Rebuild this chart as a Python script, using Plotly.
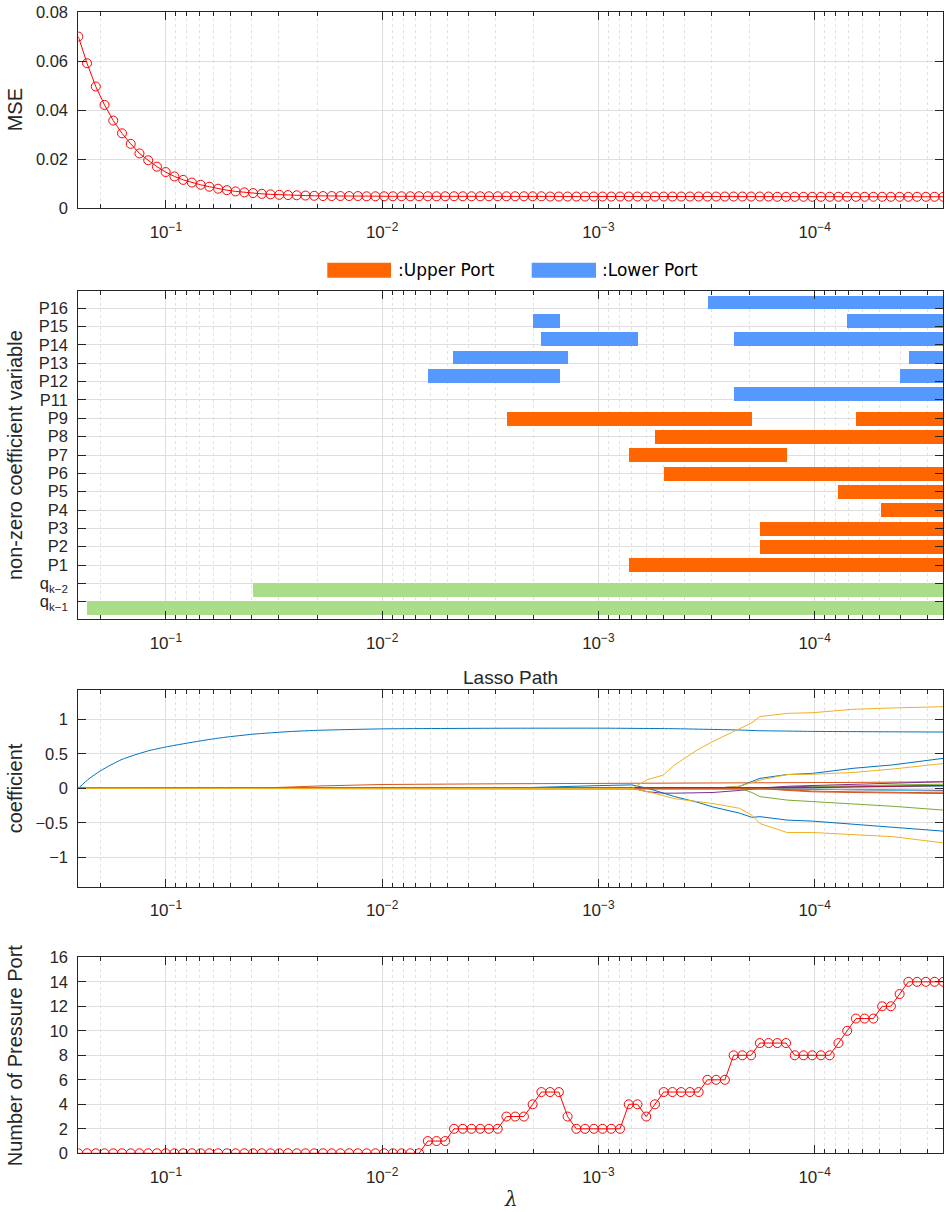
import numpy as np
import plotly.graph_objects as go

W, H = 946, 1212

# ---------------- data ----------------
LAMBDA_MAX = 0.2541
N_LAMBDA = 100
lam = np.logspace(np.log10(LAMBDA_MAX), np.log10(LAMBDA_MAX * 1e-4), N_LAMBDA)

mse = [0.0701, 0.0592, 0.0497, 0.0422, 0.0358, 0.0306, 0.0263, 0.0224, 0.0196, 0.0170,
       0.0148, 0.0130, 0.0116, 0.0105, 0.0096, 0.0088, 0.0080, 0.0074, 0.0069, 0.0065,
       0.0062, 0.0059, 0.0057, 0.0055, 0.0054, 0.0053, 0.0052, 0.0051, 0.0050, 0.0050,
       0.0050, 0.0050, 0.0050, 0.0049, 0.0049, 0.0049, 0.0049, 0.0049, 0.0049, 0.0049,
       0.0049, 0.0049, 0.0049, 0.0049, 0.0049, 0.0049, 0.0049, 0.0049, 0.0049, 0.0049,
       0.0049, 0.0049, 0.0049, 0.0049, 0.0048, 0.0048, 0.0048, 0.0048, 0.0048, 0.0048,
       0.0048, 0.0048, 0.0048, 0.0048, 0.0048, 0.0048, 0.0048, 0.0048, 0.0048, 0.0048,
       0.0048, 0.0048, 0.0048, 0.0048, 0.0048, 0.0048, 0.0048, 0.0048, 0.0048, 0.0048,
       0.0047, 0.0047, 0.0047, 0.0047, 0.0047, 0.0047, 0.0047, 0.0047, 0.0047, 0.0047,
       0.0047, 0.0047, 0.0047, 0.0047, 0.0047, 0.0047, 0.0047, 0.0047, 0.0047, 0.0047]

n_ports = [0] * 40 + [1, 1, 1, 2, 2, 2, 2, 2, 2, 3, 3, 3, 4, 5, 5, 5, 3, 2, 2, 2,
                      2, 2, 2, 4, 4, 3, 4, 5, 5, 5, 5, 5, 6, 6, 6, 8, 8, 8, 9, 9,
                      9, 9, 8, 8, 8, 8, 8, 9, 10, 11, 11, 11, 12, 12, 13, 14, 14, 14, 14, 14]

var_labels = ['q<sub>k−1</sub>', 'q<sub>k−2</sub>', 'P1', 'P2', 'P3', 'P4', 'P5', 'P6', 'P7',
              'P8', 'P9', 'P11', 'P12', 'P13', 'P14', 'P15', 'P16']

LMIN = 2.541e-5
# non-zero intervals: (variable label index, lambda where it enters, lambda where it leaves)
q_var = [0, 1]
q_start = [0.2307, 0.0395]
q_end = [LMIN, LMIN]

up_var = [2, 3, 4, 5, 6, 7, 8, 9, 10, 10]
up_start = [7.22e-4, 1.79e-4, 1.79e-4, 4.90e-5, 7.74e-5, 4.98e-4, 7.22e-4, 5.47e-4, 2.65e-3, 6.44e-5]
up_end = [LMIN, LMIN, LMIN, LMIN, LMIN, LMIN, 1.343e-4, LMIN, 1.95e-4, LMIN]

lo_var = [11, 12, 12, 13, 13, 14, 14, 15, 15, 16]
lo_start = [2.36e-4, 6.14e-3, 4.03e-5, 4.67e-3, 3.66e-5, 1.84e-3, 2.36e-4, 2.00e-3, 7.08e-5, 3.11e-4]
lo_end = [LMIN, 1.505e-3, LMIN, 1.38e-3, LMIN, 6.56e-4, LMIN, 1.505e-3, LMIN, LMIN]

# lasso path of q_{k-1} (own sampling, it is curved at large lambda)
q1_lam = [0.2541, 0.2267, 0.2017, 0.1794, 0.1595, 0.1374, 0.1184, 0.0999, 0.0816, 0.0625,
          0.0533, 0.0395, 0.0267, 0.0194, 0.0099, 0.00285, 9.84e-4, 4.43e-4, 2.22e-4, 1.79e-4,
          1.34e-4, 1.02e-4, 6.65e-5, 4.35e-5, 2.541e-5]
q1_coef = [0, 0.14, 0.25, 0.34, 0.42, 0.49, 0.55, 0.60, 0.65, 0.71,
           0.74, 0.785, 0.823, 0.842, 0.862, 0.871, 0.872, 0.864, 0.845, 0.835,
           0.83, 0.825, 0.822, 0.819, 0.816]

# other coefficients, read at these lambdas
path_lam = [0.2541, 0.2244, 0.2018, 0.1596, 0.1, 0.0625, 0.0395, 0.01938, 0.0099, 0.00285,
            9.84e-4, 7.0e-4, 5.9e-4, 5.03e-4, 4.43e-4, 3.5e-4, 2.95e-4, 2.22e-4, 1.95e-4, 1.79e-4,
            1.34e-4, 1.02e-4, 6.65e-5, 4.35e-5, 2.541e-5]

BLUE, ORANGE, YELLOW, PURPLE, GREEN, LBLUE, DRED = (
    '#0072BD', '#D95319', '#EDB120', '#7E2F8E', '#77AC30', '#4DBEEE', '#A2142F')

path_colors = [ORANGE, PURPLE, GREEN, LBLUE, DRED, BLUE, ORANGE, YELLOW,
               PURPLE, GREEN, LBLUE, DRED, BLUE, ORANGE, YELLOW, YELLOW]
coef_paths = [
    [0, 0, 0, 0, 0, 0, 0, 0.035, 0.056, 0.066, 0.069, 0.07, 0.07, 0.071, 0.071, 0.072, 0.073, 0.075, 0.076, 0.077, 0.079, 0.082, 0.086, 0.09, 0.095],
    [0, 0, 0, 0, 0, 0, 0, 0, 0, 0, 0, 0, -0.05, -0.07, -0.07, -0.065, -0.06, -0.03, -0.01, 0.0, 0.03, 0.04, 0.05, 0.07, 0.096],
    [0, 0, 0, 0, 0, 0, 0, 0, 0, 0, 0, 0, 0, 0, 0, 0, 0, 0, -0.06, -0.12, -0.17, -0.19, -0.22, -0.26, -0.315],
    [0, 0, 0, 0, 0, 0, 0, 0, 0, 0, 0, 0, 0, 0, 0, 0, 0, 0, 0, 0, 0, 0.01, 0.02, 0.025, 0.03],
    [0, 0, 0, 0, 0, 0, 0, 0, 0, 0, 0, 0, 0, 0, 0, 0, 0, 0, 0, -0.01, -0.01, -0.015, -0.02, -0.025, -0.03],
    [0, 0, 0, 0, 0, 0, 0, 0, 0, 0, 0, 0, 0, 0, 0, 0, 0, 0.03, 0.1, 0.145, 0.2, 0.217, 0.29, 0.34, 0.435],
    [0, 0, 0, 0, 0, 0, 0, 0, 0, 0, 0, 0, 0, 0, 0, 0, 0, 0, 0, 0, -0.03, -0.05, -0.06, -0.07, -0.075],
    [0, 0, 0, 0, 0, 0, 0, 0, 0, 0, 0, 0, 0, 0, 0, 0, 0, 0.03, 0.08, 0.12, 0.2, 0.205, 0.23, 0.28, 0.36],
    [0, 0, 0, 0, 0, 0, 0, 0, 0, 0, 0, 0, 0, 0, 0, 0, 0, 0, 0, 0.01, 0.02, 0.03, 0.03, 0.035, 0.04],
    [0, 0, 0, 0, 0, 0, 0, 0, 0, 0, 0, 0, 0, 0, 0, 0, 0, 0, 0, 0, 0, 0.02, 0.04, 0.05, 0.06],
    [0, 0, 0, 0, 0, 0, 0, 0, 0, 0, 0, 0, 0, 0, 0, 0, 0, 0, 0, 0, 0, -0.01, -0.02, -0.03, -0.04],
    [0, 0, 0, 0, 0, 0, 0, 0, 0, 0, 0, 0, 0, 0, 0, 0, 0, 0, 0, 0, 0, 0.01, 0.02, 0.03, 0.04],
    [0, 0, 0, 0, 0, 0, 0, 0, 0, 0, 0.04, 0.05, 0.0, -0.07, -0.12, -0.2, -0.27, -0.36, -0.42, -0.41, -0.46, -0.475, -0.52, -0.57, -0.62],
    [0, 0, 0, 0, 0, 0, 0, 0, 0, 0, 0, 0, 0, 0, 0, 0, 0, 0, 0, 0, -0.02, -0.04, -0.05, -0.06, -0.065],
    [0, 0, 0, 0, 0, 0, 0, 0, 0, 0, 0, 0, 0.13, 0.19, 0.34, 0.555, 0.68, 0.86, 0.95, 1.04, 1.087, 1.096, 1.145, 1.165, 1.183],
    [0, 0, 0, 0, 0, 0, 0, 0, 0, 0, 0, 0, -0.05, -0.1, -0.15, -0.19, -0.22, -0.29, -0.39, -0.51, -0.64, -0.64, -0.67, -0.70, -0.79],
]

x_major = [1e-1, 1e-2, 1e-3, 1e-4]
x_major_text = ['10<sup>−1</sup>', '10<sup>−2</sup>', '10<sup>−3</sup>', '10<sup>−4</sup>']
x_minor = [k * 10.0 ** (-n) for n in range(1, 6) for k in range(2, 10)]

UPPER_C, LOWER_C, Q_C = '#FF6600', '#5599FF', '#AADD88'

# ---------------- layout geometry (pixels) ----------------
XL, XR = 78.3, 943.3
panels = [(12.3, 208.3), (290.7, 619.3), (690.0, 886.7), (957.3, 1153.3)]

def ydom(t, b):
    return [1 - b / H, 1 - t / H]

TXT = '#262626'
FONT = 'Liberation Sans'

fig = go.Figure()

# panel 1: MSE
fig.add_trace(go.Scatter(x=lam, y=mse, mode='lines+markers', xaxis='x', yaxis='y',
                         line=dict(color='#FF0000', width=1),
                         marker=dict(symbol='circle-open', size=9, color='#FF0000', line=dict(width=1)),
                         showlegend=False))

# panel 2: non-zero intervals
for var, st, en, col in [(q_var, q_start, q_end, Q_C), (up_var, up_start, up_end, UPPER_C),
                         (lo_var, lo_start, lo_end, LOWER_C)]:
    fig.add_trace(go.Bar(y=var, base=en, x=[s - e for s, e in zip(st, en)], orientation='h',
                         width=0.76, marker=dict(color=col, line=dict(width=0)),
                         xaxis='x2', yaxis='y2', showlegend=False))

# panel 3: lasso path
fig.add_trace(go.Scatter(x=q1_lam, y=q1_coef, mode='lines',
                         line=dict(color=BLUE, width=1, shape='spline', smoothing=0.5),
                         xaxis='x3', yaxis='y3', showlegend=False))
for c, yv in zip(path_colors, coef_paths):
    fig.add_trace(go.Scatter(x=path_lam, y=yv, mode='lines', line=dict(color=c, width=1),
                             xaxis='x3', yaxis='y3', showlegend=False))

# panel 4: number of pressure ports
fig.add_trace(go.Scatter(x=lam, y=n_ports, mode='lines+markers', xaxis='x4', yaxis='y4',
                         line=dict(color='#FF0000', width=1),
                         marker=dict(symbol='circle-open', size=9, color='#FF0000', line=dict(width=1)),
                         showlegend=False))

xr = [np.log10(lam[0]), np.log10(lam[-1])]

def xaxis(anchor):
    return dict(type='log', range=xr, domain=[XL / W, XR / W], anchor=anchor, automargin=False,
                tickmode='array', tickvals=x_major, ticktext=x_major_text,
                ticks='inside', ticklen=8, tickcolor=TXT, tickwidth=1,
                showline=True, linecolor=TXT, linewidth=1, mirror='ticks',
                showgrid=True, gridcolor='#DEDEDE', gridwidth=1, zeroline=False,
                minor=dict(tickvals=x_minor, ticks='inside', ticklen=4, tickcolor=TXT,
                           showgrid=True, gridcolor='#E2E2E2', griddash='dot', gridwidth=1),
                tickfont=dict(family=FONT, size=17, color=TXT), ticklabelstandoff=8)

def yaxis(anchor, t, b, **kw):
    d = dict(domain=ydom(t, b), anchor=anchor, automargin=False,
             ticks='inside', ticklen=8, tickcolor=TXT, tickwidth=1,
             showline=True, linecolor=TXT, linewidth=1, mirror='ticks',
             showgrid=True, gridcolor='#DEDEDE', gridwidth=1, zeroline=False,
             tickfont=dict(family=FONT, size=16.5, color=TXT), ticklabelstandoff=6)
    d.update(kw)
    return d

fig.update_layout(
    width=W, height=H, margin=dict(l=0, r=0, t=0, b=0, autoexpand=False),
    paper_bgcolor='white', plot_bgcolor='white', bargap=0,
    xaxis=xaxis('y'), xaxis2=xaxis('y2'), xaxis3=xaxis('y3'), xaxis4=xaxis('y4'),
    yaxis=yaxis('x', *panels[0], range=[0, 0.08], tickvals=[0, 0.02, 0.04, 0.06, 0.08],
                ticktext=['0', '0.02', '0.04', '0.06', '0.08']),
    yaxis2=yaxis('x2', *panels[1], range=[-0.96, 16.96], tickmode='array',
                 tickvals=list(range(len(var_labels))), ticktext=var_labels),
    yaxis3=yaxis('x3', *panels[2], range=[-1.425, 1.425], tickvals=[-1, -0.5, 0, 0.5, 1],
                 ticktext=['−1', '−0.5', '0', '0.5', '1']),
    yaxis4=yaxis('x4', *panels[3], range=[0, 16], tickvals=list(range(0, 17, 2))),
)

ann = []
ytitles = ['MSE', 'non-zero coefficient variable', 'coefficient', 'Number of Pressure Port']
for (t, b), txt in zip(panels, ytitles):
    ann.append(dict(text=txt, x=15 / W, y=1 - (t + b) / 2 / H, xref='paper', yref='paper',
                    textangle=-90, showarrow=False, xanchor='center', yanchor='middle',
                    font=dict(family=FONT, size=20, color=TXT)))
ann.append(dict(text='Lasso Path', x=(XL + XR) / 2 / W, y=1 - 677 / H, xref='paper', yref='paper',
                showarrow=False, xanchor='center', yanchor='middle',
                font=dict(family=FONT, size=19, color=TXT)))
ann.append(dict(text='<i>λ</i>', x=(XL + XR) / 2 / W, y=1 - 1199 / H, xref='paper', yref='paper',
                showarrow=False, xanchor='center', yanchor='middle',
                font=dict(family='DejaVu Serif', size=20, color=TXT)))
# legend
shapes = []
for x0, x1, col, txt, tx in [(327.3, 391.0, UPPER_C, ':Upper Port', 396.0),
                             (531.7, 596.0, LOWER_C, ':Lower Port', 600.0)]:
    shapes.append(dict(type='rect', xref='paper', yref='paper', x0=x0 / W, x1=x1 / W,
                       y0=1 - 277.7 / H, y1=1 - 262.7 / H, fillcolor=col, line=dict(width=0)))
    ann.append(dict(text=txt, x=tx / W, y=1 - 270 / H, xref='paper', yref='paper',
                    showarrow=False, xanchor='left', yanchor='middle',
                    font=dict(family='DejaVu Sans', size=17, color='#000000')))
fig.update_layout(annotations=ann, shapes=shapes)

fig.write_html('out.html')
